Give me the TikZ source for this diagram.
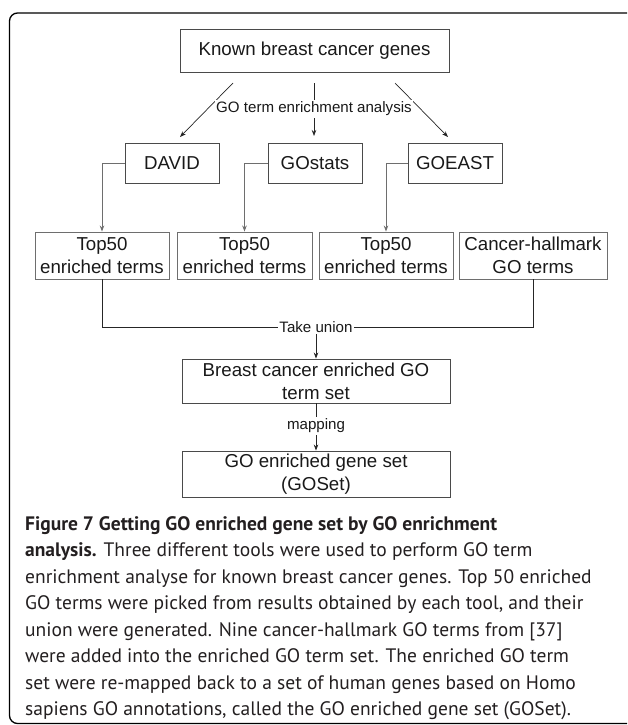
\documentclass[tikz,border=0pt]{standalone}
\usepackage{fontspec}
\setmainfont{Liberation Sans}
\newfontfamily\capfont{PT Sans}
\usetikzlibrary{arrows.meta}
\definecolor{boxcol}{HTML}{4A4A4A}
\definecolor{lightcol}{HTML}{6E6E6E}
\definecolor{captext}{HTML}{231F20}
\tikzset{
  box/.style={draw=boxcol, line width=0.9pt, inner sep=0pt, align=center,
    font=\fontsize{18.7}{23}\selectfont, text=black!90},
  lbl/.style={fill=white, inner sep=1.5pt, font=\fontsize{15.1}{18}\selectfont, text=black!90},
  arr/.style={line width=0.7pt, draw=black!85, -{Stealth[length=6pt,width=4.5pt]}},
  garr/.style={line width=0.9pt, draw=lightcol, -{Stealth[length=6pt,width=4.5pt]}},
  captxt/.style={anchor=base west, inner sep=0pt, text=captext, font=\capfont\fontsize{19.5}{26.5}\selectfont},
}
\begin{document}
\begin{tikzpicture}[x=1pt,y=-1pt]
\useasboundingbox (0,0) rectangle (627,725);
\begin{scope}
\clip (0,0) rectangle (627,725);
\draw[line width=1.3pt, rounded corners=8pt] (9.5,723.5) -- (9.5,13) -- (640,13) -- (640,723.5) -- cycle;
\end{scope}
% nodes
\node[box, minimum width=269pt, minimum height=43pt] (top) at (314.5,50.5) {Known breast cancer genes};
\node[box, minimum width=94pt, minimum height=40pt] (david) at (172,163) {DAVID};
\node[box, minimum width=94pt, minimum height=40pt] (gostats) at (315,163) {GOstats};
\node[box, minimum width=94pt, minimum height=40pt] (goeast) at (455,163) {GOEAST};
\node[box, draw=lightcol, minimum width=134pt, minimum height=47pt] (t1) at (102,255.5) {Top50\\enriched terms};
\node[box, draw=lightcol, minimum width=135pt, minimum height=47pt] (t2) at (244.5,255.5) {Top50\\enriched terms};
\node[box, draw=lightcol, minimum width=134pt, minimum height=47pt] (t3) at (386,255.5) {Top50\\enriched terms};
\node[box, draw=lightcol, minimum width=148pt, minimum height=47pt] (t4) at (533,255.5) {Cancer-hallmark\\GO terms};
\node[box, minimum width=268pt, minimum height=44pt] (bc) at (316,381) {Breast cancer enriched GO\\term set};
\node[box, minimum width=268pt, minimum height=46pt] (gs) at (316,474) {GO enriched gene set\\(GOSet)};
% top arrows
\coordinate (s1) at (233,83); \coordinate (e1) at (180,137);
\coordinate (s2) at (314,83); \coordinate (e2) at (314,136);
\coordinate (s3) at (395,83); \coordinate (e3) at (448,137);
\draw[arr] (s1) -- (e1);
\draw[arr] (s3) -- (e3);
\draw[arr] (s2) -- (e2);
\node[lbl] (goa) at (314,109) {GO term enrichment analysis};
% tool -> top50
\draw[garr] (david.west) -- (102,163) -- (t1.north);
\draw[garr] (gostats.west) -- (t2.north |- gostats.west) -- (t2.north);
\draw[garr] (goeast.west) -- (t3.north |- goeast.west) -- (t3.north);
% union
\coordinate (u) at (316,327);
\draw[line width=0.9pt, draw=black!85] (t1.south) -- (t1.south |- u) -- (t4.south |- u) -- (t4.south);
\draw[arr] (u) -- (bc.north);
\node[lbl] (tu) at (316,327) {Take union};
\draw[arr] (bc.south) -- (gs.north);
\node[lbl] (mp) at (316,426) {mapping};
% caption
\node[captxt] (c1) at (25,530) {\bfseries Figure 7 Getting GO enriched gene set by GO enrichment};
\node[captxt] (c2) at (25,556.5) {\textbf{analysis.} Three different tools were used to perform GO term};
\node[captxt] (c3) at (25,583) {enrichment analyse for known breast cancer genes. Top 50 enriched};
\node[captxt] (c4) at (25,609.5) {GO terms were picked from results obtained by each tool, and their};
\node[captxt] (c5) at (25,636) {union were generated. Nine cancer-hallmark GO terms from [37]};
\node[captxt] (c6) at (25,662.5) {were added into the enriched GO term set. The enriched GO term};
\node[captxt] (c7) at (25,689) {set were re-mapped back to a set of human genes based on Homo};
\node[captxt] (c8) at (25,715.5) {sapiens GO annotations, called the GO enriched gene set (GOSet).};
\end{tikzpicture}
\end{document}
